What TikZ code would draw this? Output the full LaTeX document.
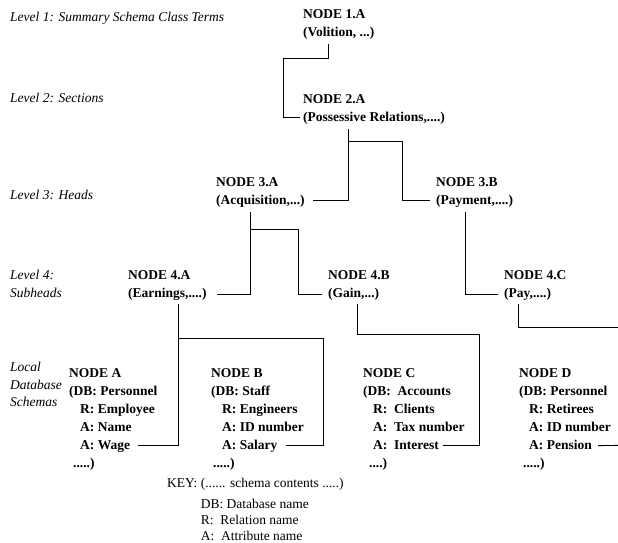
\documentclass[tikz,border=0pt]{standalone}
\usepackage{fontspec}
\setmainfont{Liberation Serif}
\usetikzlibrary{matrix,calc}

\tikzset{
  link/.style={draw=black, line width=0.9pt},
  caption/.style={anchor=base west, inner sep=0pt,
    font=\fontsize{13.5}{17.5}\selectfont\itshape},
  keytext/.style={anchor=base west, inner sep=0pt,
    font=\fontsize{13.5}{16}\selectfont},
  entry/.style={matrix of nodes, anchor=north west, inner sep=0pt,
    row sep=0pt, column sep=0pt,
    nodes={anchor=base west, inner sep=0pt, text height=12.6pt,
      text depth=5.4pt, font=\fontsize{13.5}{18}\selectfont\bfseries}},
}

\begin{document}
\begin{tikzpicture}[x=1pt, y=-1pt]
\path[use as bounding box, fill=white] (0,0) rectangle (618,543);

% level captions on the left
\node[caption] (lv1) at (10,21.5) {Level 1: Summary Schema Class Terms};
\node[caption] (lv2) at (10,102) {Level 2: Sections};
\node[caption] (lv3) at (10,199) {Level 3: Heads};
\node[caption] (lv4) at (10,279.5)
  {\begin{tabular}[t]{@{}l@{}}Level 4:\\Subheads\end{tabular}};
\node[caption] (lv5) at (10,371.5)
  {\begin{tabular}[t]{@{}l@{}}Local\\Database\\Schemas\end{tabular}};

% hierarchy of summary schema terms
\matrix[entry] (n1)  at (303,5.4)   {NODE 1.A\\ (Volition, ...)\\};
\matrix[entry] (n2)  at (303,90.4)  {NODE 2.A\\ (Possessive Relations,....)\\};
\matrix[entry] (n3a) at (216,173.4) {NODE 3.A\\ (Acquisition,...)\\};
\matrix[entry] (n3b) at (436,173.4) {NODE 3.B\\ (Payment,....)\\};
\matrix[entry] (n4a) at (128,266.9) {NODE 4.A\\ (Earnings,....)\\};
\matrix[entry] (n4b) at (328,266.9) {NODE 4.B\\ (Gain,...)\\};
\matrix[entry] (n4c) at (504,266.9) {NODE 4.C\\ (Pay,....)\\};

% local database schemas
\matrix[entry] (sa) at (69,364.4) {
  NODE A\\
  (DB: Personnel\\
  \hspace*{11pt}R: Employee\\
  \hspace*{11pt}A: Name\\
  \hspace*{11pt}A: Wage\\
  \hspace*{4pt}.....)\\
};
\matrix[entry] (sb) at (211,364.4) {
  NODE B\\
  (DB: Staff\\
  \hspace*{11pt}R: Engineers\\
  \hspace*{11pt}A: ID number\\
  \hspace*{11pt}A: Salary\\
  \hspace*{2pt}.....)\\
};
\matrix[entry] (sc) at (363,364.4) {
  NODE C\\
  (DB:\ \ Accounts\\
  \hspace*{10pt}R:\ \ Clients\\
  \hspace*{10pt}A:\ \ Tax number\\
  \hspace*{10pt}A:\ \ Interest\\
  \hspace*{6pt}....)\\
};
\matrix[entry] (sd) at (519,364.4) {
  NODE D\\
  (DB: Personnel\\
  \hspace*{10pt}R: Retirees\\
  \hspace*{10pt}A: ID number\\
  \hspace*{10pt}A: Pension\\
  \hspace*{4pt}.....)\\
};

% key
\node[keytext] (key) at (167,487.5) {\begin{tabular}[t]{@{}l@{\ }l@{}}
  KEY: & (...... schema contents .....)\\[5pt]
       & DB: Database name\\
       & R:\ \ Relation name\\
       & A:\ \ Attribute name
\end{tabular}};

% connectors leaving the picture on the right
\coordinate (outc) at (618,327);
\coordinate (outd) at (618,445.4);

% level 1 -> level 2
\draw[link] ($(n1-2-1.south west)+(25,2)$) -- ++(0,15)
  -| ($(n2-2-1.west)+(-20,0)$) -- ($(n2-2-1.west)+(-3,0)$);

% level 2 -> level 3
\draw[link] ($(n2-2-1.south west)+(45,2)$) |- ($(n3a-2-1.east)+(8,0)$);
\draw[link] ($(n2-2-1.south west)+(45,15)$) -- ++(54,0)
  |- ($(n3b-2-1.west)+(-6,0)$);

% level 3 -> level 4
\draw[link] ($(n3a-2-1.south west)+(34,2)$) |- ($(n4a-2-1.east)+(10,0)$);
\draw[link] ($(n3a-2-1.south west)+(34,20)$) -- ++(48,0)
  |- ($(n4b-2-1.west)+(-6,0)$);
\draw[link] ($(n3b-2-1.south west)+(29,2)$) |- ($(n4c-2-1.west)+(-6,0)$);

% level 4 -> local schemas
\draw[link] ($(n4a-2-1.south west)+(50,1)$) |- ($(sa-5-1.east)+(8,0)$);
\draw[link] ($(n4a-2-1.south west)+(50,35)$) -- ++(145,0)
  |- ($(sb-5-1.east)+(8,0)$);
\draw[link] ($(n4b-2-1.south west)+(29,1)$) -- ++(0,30) -- ++(122,0)
  |- ($(sc-5-1.east)+(4,0)$);
\draw[link] ($(n4c-2-1.south west)+(14,1)$) |- (outc);
\draw[link] ($(sd-5-1.east)+(6,0)$) -- (outd);
\end{tikzpicture}
\end{document}
